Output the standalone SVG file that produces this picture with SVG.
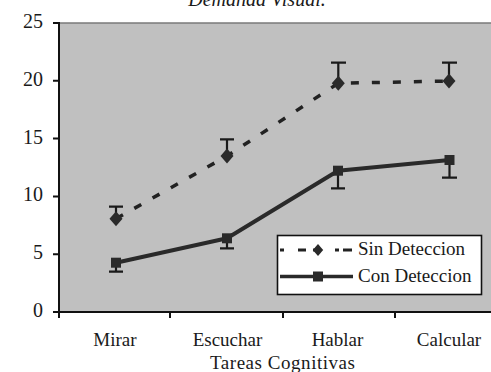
<svg xmlns="http://www.w3.org/2000/svg" width="491" height="372" viewBox="0 0 491 372">
<style>
text{font-family:"Liberation Serif","Times New Roman",serif;fill:#1a1a1a}
.lbl{font-size:19px}
.ylab{font-size:20px;text-anchor:end}
.xlab{font-size:19px;text-anchor:middle}
.axis{stroke:#111;stroke-width:2;fill:none}
.sin{stroke:#222;stroke-width:3.5;fill:none;stroke-dasharray:8 13}
.con{stroke:#2a2a2a;stroke-width:4;fill:none;stroke-linejoin:round}
.err{stroke:#1a1a1a;stroke-width:2.2;fill:none}
.mk{fill:#2a2a2a}
</style>
<defs>
<path id="dia" d="M0,-7.5 L6.5,0 L0,7.5 L-6.5,0 Z"/>
<rect id="sq" x="-5" y="-5" width="10" height="10"/>
</defs>
<rect width="491" height="372" fill="#fff"/>
<text x="257" y="6" font-size="20" font-style="italic" text-anchor="middle">Demanda Visual.</text>
<g id="plot-area">
<rect x="59" y="23" width="432" height="289" fill="#c0c0c0"/>
<line x1="59" y1="23" x2="491" y2="23" stroke="#7a7a7a" stroke-width="1.5"/>
</g>
<g id="axes">
<line class="axis" x1="59" y1="22" x2="59" y2="312"/>
<line class="axis" x1="53" y1="312" x2="491" y2="312"/>
<path class="axis" d="M53,23H59M53,80.8H59M53,138.6H59M53,196.4H59M53,254.2H59M59,312V318M170,312V318M283,312V318M395,312V318"/>
<text class="ylab" x="43" y="28">25</text>
<text class="ylab" x="43" y="86">20</text>
<text class="ylab" x="43" y="144">15</text>
<text class="ylab" x="43" y="201">10</text>
<text class="ylab" x="43" y="259">5</text>
<text class="ylab" x="43" y="317">0</text>
<text class="xlab" x="115" y="346">Mirar</text>
<text class="xlab" x="227.5" y="346">Escuchar</text>
<text class="xlab" x="337.5" y="346">Hablar</text>
<text class="xlab" x="449" y="346">Calcular</text>
<text class="xlab" x="282.5" y="369" textLength="145">Tareas Cognitivas</text>
</g>
<g id="connectors">
<g id="sin-deteccion">
<polyline class="sin" points="116,218.7 227,156 338.3,83.3 449,81"/>
<path class="err" d="M116,218.7V206.7M109,206.7H123M227,156V139.3M220,139.3H234M338.3,83.3V62.7M331,62.7H346M449,81V62.7M442,62.7H457"/>
<use href="#dia" class="mk" x="116" y="218.7"/>
<use href="#dia" class="mk" x="227" y="156"/>
<use href="#dia" class="mk" x="338.3" y="83.3"/>
<use href="#dia" class="mk" x="449" y="81"/>
</g>
<g id="con-deteccion">
<polyline class="con" points="116,262.7 227,238.3 338,170.7 449.5,160"/>
<path class="err" d="M116,262.7V271.7M109,271.7H123M227,238.3V248.3M220,248.3H234M338,170.7V188.3M331,188.3H345M449.5,160V177.7M442,177.7H457"/>
<use href="#sq" class="mk" x="116" y="262.7"/>
<use href="#sq" class="mk" x="227" y="238.3"/>
<use href="#sq" class="mk" x="338" y="170.7"/>
<use href="#sq" class="mk" x="449.5" y="160"/>
</g>
</g>
<g id="legend">
<rect x="277.5" y="235.5" width="204" height="59" fill="#fff" stroke="#111" stroke-width="1.6"/>
<line x1="280" y1="250" x2="352" y2="250" stroke="#222" stroke-width="3" stroke-dasharray="4 14 8 7 8 14 4"/>
<use href="#dia" class="mk" x="318" y="250" transform="translate(318 250) scale(0.8) translate(-318 -250)"/>
<text class="lbl" x="358" y="255">Sin Deteccion</text>
<line x1="280" y1="276.5" x2="353" y2="276.5" stroke="#2a2a2a" stroke-width="3.5"/>
<use href="#sq" class="mk" x="318" y="276.5"/>
<text class="lbl" x="358" y="282">Con Deteccion</text>
</g>
</svg>
